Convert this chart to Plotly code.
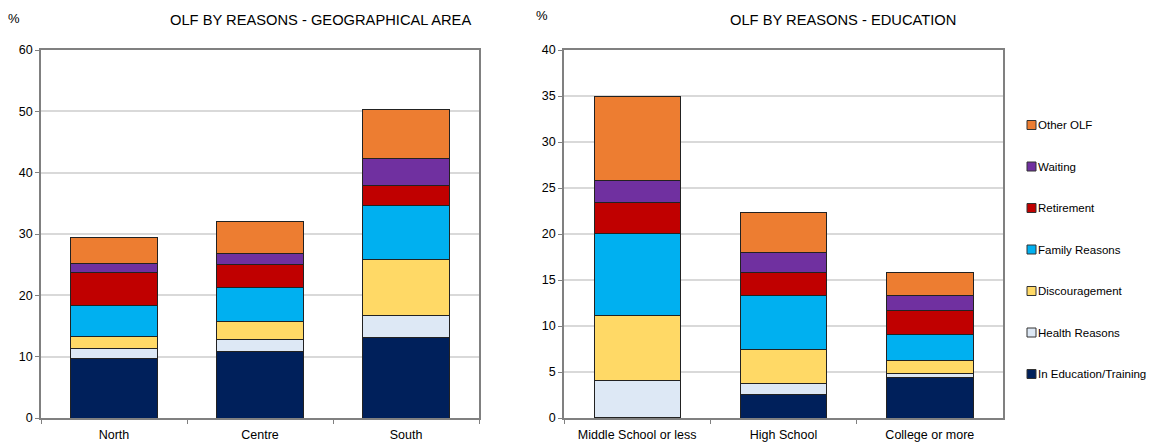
import plotly.graph_objects as go

# Categories
areas = ["North", "Centre", "South"]
education = ["Middle School or less", "High School", "College or more"]

# Reasons (stack order bottom -> top)
reasons = ["In Education/Training", "Health Reasons", "Discouragement",
           "Family Reasons", "Retirement", "Waiting", "Other OLF"]
colors = ["#00205B", "#DDE8F5", "#FFD966", "#00B0F0", "#C00000", "#7030A0", "#ED7D31"]

# OLF shares (%) by geographical area, one list per reason
area_edu_training = [9.7, 10.8, 13.2]
area_health = [1.6, 2.0, 3.5]
area_discouragement = [2.0, 2.9, 9.2]
area_family = [5.0, 5.5, 8.7]
area_retirement = [5.4, 3.9, 3.3]
area_waiting = [1.5, 1.7, 4.4]
area_other = [4.3, 5.2, 8.0]

# OLF shares (%) by education level, one list per reason
edu_edu_training = [0.1, 2.6, 4.4]
edu_health = [4.0, 1.1, 0.4]
edu_discouragement = [7.05, 3.7, 1.4]
edu_family = [8.9, 5.9, 2.9]
edu_retirement = [3.35, 2.55, 2.55]
edu_waiting = [2.4, 2.15, 1.65]
edu_other = [9.2, 4.3, 2.5]

area_series = [area_edu_training, area_health, area_discouragement, area_family,
               area_retirement, area_waiting, area_other]
edu_series = [edu_edu_training, edu_health, edu_discouragement, edu_family,
              edu_retirement, edu_waiting, edu_other]

font_family = "Liberation Sans, Arial, sans-serif"
outline = "#222222"
fig = go.Figure()

for name, color, vals in zip(reasons, colors, area_series):
    fig.add_trace(go.Bar(
        x=areas, y=vals, name=name, legendgroup=name,
        marker=dict(color=color, line=dict(color=outline, width=1)),
        width=0.59, xaxis="x", yaxis="y", showlegend=False,
    ))

for name, color, vals in zip(reasons, colors, edu_series):
    fig.add_trace(go.Bar(
        x=education, y=vals, name=name, legendgroup=name,
        marker=dict(color=color, line=dict(color=outline, width=1)),
        width=0.59, xaxis="x2", yaxis="y2", showlegend=False,
    ))

W, H = 1151, 444
y_dom = [1 - 418 / H, 1 - 50 / H]

axis_common = dict(
    showline=True, linecolor="#808080", linewidth=1.5, mirror=True,
    tickfont=dict(family=font_family, size=12.5, color="#000000"),
    ticks="outside", ticklen=4, tickcolor="#808080", automargin=False,
)

# Side legend: small outlined squares with labels, top entry = top of stack
shapes = []
annotations = []
legend_x0, sym = 1027, 9
for i, (name, color) in enumerate(zip(reasons[::-1], colors[::-1])):
    yc = 125 + 41.5 * i
    shapes.append(dict(
        type="rect", xref="paper", yref="paper",
        x0=legend_x0 / W, x1=(legend_x0 + sym) / W,
        y0=1 - (yc + sym / 2) / H, y1=1 - (yc - sym / 2) / H,
        fillcolor=color, line=dict(color="#333333", width=1),
    ))
    annotations.append(dict(
        text=name, x=(legend_x0 + sym + 1) / W, y=1 - yc / H,
        xref="paper", yref="paper", xanchor="left", yanchor="middle",
        showarrow=False, borderpad=0,
        font=dict(family=font_family, size=11.5, color="#000000"),
    ))

annotations += [
    dict(text="OLF BY REASONS - GEOGRAPHICAL AREA", x=320 / W, y=1 - 20 / H,
         xref="paper", yref="paper", xanchor="center", yanchor="middle",
         showarrow=False, font=dict(family=font_family, size=14.7, color="#000000")),
    dict(text="OLF BY REASONS - EDUCATION", x=843 / W, y=1 - 20 / H,
         xref="paper", yref="paper", xanchor="center", yanchor="middle",
         showarrow=False, font=dict(family=font_family, size=14.7, color="#000000")),
    dict(text="%", x=14 / W, y=1 - 18 / H, xref="paper", yref="paper",
         xanchor="center", yanchor="middle", showarrow=False,
         font=dict(family=font_family, size=13, color="#000000")),
    dict(text="%", x=542 / W, y=1 - 16 / H, xref="paper", yref="paper",
         xanchor="center", yanchor="middle", showarrow=False,
         font=dict(family=font_family, size=13, color="#000000")),
]

fig.update_layout(
    width=W, height=H,
    margin=dict(l=0, r=0, t=0, b=0, autoexpand=False),
    paper_bgcolor="white", plot_bgcolor="white",
    barmode="stack", showlegend=False,
    font=dict(family=font_family, color="#000000"),
    xaxis=dict(domain=[41 / W, 479 / W], anchor="y", showgrid=False,
               tickson="boundaries", ticklabelstandoff=4, **axis_common),
    yaxis=dict(domain=y_dom, anchor="x", range=[0, 60], dtick=10,
               showgrid=True, gridcolor="#D9D9D9", gridwidth=1.5, **axis_common),
    xaxis2=dict(domain=[564 / W, 1003 / W], anchor="y2", showgrid=False,
                tickson="boundaries", ticklabelstandoff=4, **axis_common),
    yaxis2=dict(domain=y_dom, anchor="x2", range=[0, 40], dtick=5,
                showgrid=True, gridcolor="#D9D9D9", gridwidth=1.5, **axis_common),
    shapes=shapes,
    annotations=annotations,
)

fig.write_html("out.html")
